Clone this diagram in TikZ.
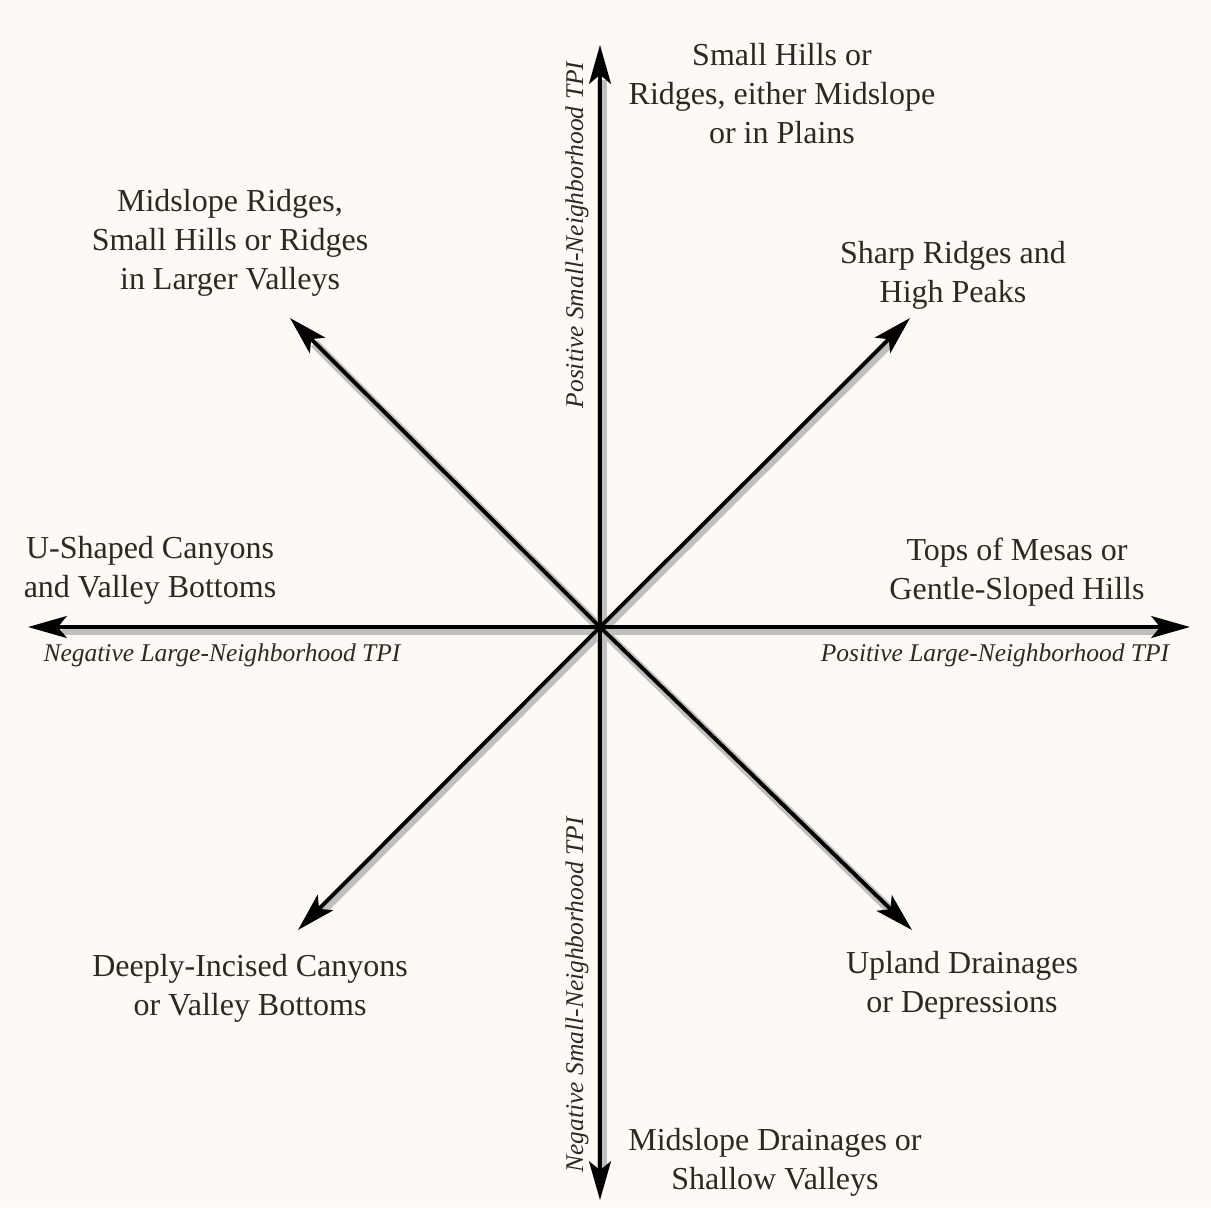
\documentclass[tikz,border=0pt]{standalone}
\usepackage{tikz}
\usepackage{xcolor}
\usepackage{fontspec}
\setmainfont{Liberation Serif}
\usetikzlibrary{arrows.meta,positioning,calc}
\definecolor{paper}{HTML}{FDF9F5}
\definecolor{ink}{HTML}{2B2A20}

\begin{document}
\begin{tikzpicture}[
    x=0.01cm, y=-0.01cm,
    lbl/.style={align=center, text=ink, font=\fontsize{9.1}{11.1}\selectfont, inner sep=0pt},
    axlbl/.style={text=ink, font=\fontsize{7.25}{9}\selectfont\itshape, inner sep=0pt},
    axis/.style={-{Stealth[length=11pt, width=6.2pt, inset=2.5pt]}, line width=1.1pt, black},
    glow/.style={line width=2.6pt, black!25, shorten >=9pt}
]
    % Background
    \fill[paper] (0,0) rectangle (1211,1207);

    % Centre and arrow tips
    \coordinate (o) at (600,627);
    \coordinate (tN) at (600,45);
    \coordinate (tS) at (600,1200);
    \coordinate (tE) at (1190,627);
    \coordinate (tW) at (28,627);
    \coordinate (tNE) at (910,318);
    \coordinate (tNW) at (290,318);
    \coordinate (tSW) at (298,930);
    \coordinate (tSE) at (912,930);

    % Shadows
    \foreach \t in {tN,tS,tE,tW,tNE,tNW,tSW,tSE}
        \draw[glow] ([shift={(2,3)}]o) -- ([shift={(2,3)}]\t);

    % Arrows
    \foreach \t in {tN,tS,tE,tW,tNE,tNW,tSW,tSE}
        \draw[axis] (o) -- (\t);

    % Landform labels
    \node[lbl] (hills) at (782,94) {Small Hills or\\Ridges, either Midslope\\or in Plains};
    \node[lbl] (midridge) at (230,243) {Midslope Ridges,\\Small Hills or Ridges\\in Larger Valleys};
    \node[lbl] (peaks) at (953,275) {Sharp Ridges and\\High Peaks};
    \node[lbl] (ucanyon) at (150,570) {U-Shaped Canyons\\and Valley Bottoms};
    \node[lbl] (mesas) at (1017,572) {Tops of Mesas or\\Gentle-Sloped Hills};
    \node[lbl] (deep) at (250,988) {Deeply-Incised Canyons\\or Valley Bottoms};
    \node[lbl] (upland) at (962,985) {Upland Drainages\\or Depressions};
    \node[lbl] (middrain) at (775,1162) {Midslope Drainages or\\Shallow Valleys};

    % Axis labels
    \node[axlbl] (negL) at (222,655) {Negative Large-Neighborhood TPI};
    \node[axlbl] (posL) at (995,655) {Positive Large-Neighborhood TPI};
    \node[axlbl, rotate=90] (posS) at (577,235) {Positive Small-Neighborhood TPI};
    \node[axlbl, rotate=90] (negS) at (577,995) {Negative Small-Neighborhood TPI};
\end{tikzpicture}
\end{document}
